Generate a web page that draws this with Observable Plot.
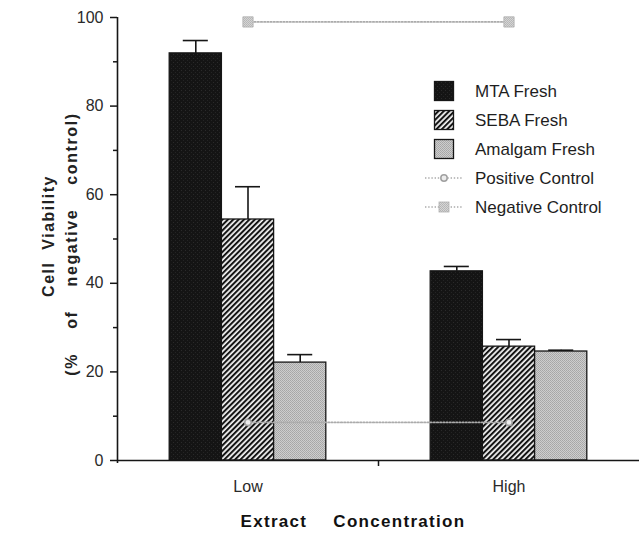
<!DOCTYPE html>
<html>
<head>
<meta charset="utf-8">
<script src="https://cdn.jsdelivr.net/npm/d3@7"></script>
<script src="https://cdn.jsdelivr.net/npm/@observablehq/plot@0.6"></script>
<style>
  body { margin: 0; background: #fff; }
  #chart { width: 639px; height: 533px; }
</style>
</head>
<body>
<div id="chart"></div>
<script>
// ---- data ----
const groups = ["Low", "High"];
const series = ["MTA Fresh", "SEBA Fresh", "Amalgam Fresh"];
const mtaFresh = [91.9, 42.7];
const mtaFreshErr = [2.9, 1.1];
const sebaFresh = [54.4, 25.7];
const sebaFreshErr = [7.4, 1.6];
const amalgamFresh = [22.1, 24.6];
const amalgamFreshErr = [1.8, 0.3];
const positiveControl = [8.6, 8.6];
const negativeControl = [99.0, 99.0];
const controlNames = ["Positive Control", "Negative Control"];
const yTicks = [0, 20, 40, 60, 80, 100];
const yMinorTicks = [10, 30, 50, 70, 90];

// ---- build tables ----
const values = [mtaFresh, sebaFresh, amalgamFresh];
const errors = [mtaFreshErr, sebaFreshErr, amalgamFreshErr];
const fillIds = ["fillMta", "fillSeba", "fillAmalgam"];
const slotsPerGroup = series.length + 2; // empty slot, bars, empty slot
const bars = [];
groups.forEach((g, gi) => series.forEach((s, si) => {
  const x1 = gi * slotsPerGroup + 1 + si;
  bars.push({group: g, series: s, si, x1, x2: x1 + 1, xc: x1 + 0.5,
             value: values[si][gi], err: errors[si][gi]});
}));
const centers = groups.map((g, gi) => gi * slotsPerGroup + slotsPerGroup / 2);
const posData = groups.map((g, gi) => ({x: centers[gi], y: positiveControl[gi]}));
const negData = groups.map((g, gi) => ({x: centers[gi], y: negativeControl[gi]}));
const groupBoundaries = groups.slice(1).map((g, gi) => (gi + 1) * slotsPerGroup);

const ink = "#161616";
const lineGray = "#ababab";
const dash = "1.4 1.8";

const plot = Plot.plot({
  width: 639,
  height: 533,
  marginLeft: 117,
  marginRight: 0,
  marginTop: 17,
  marginBottom: 73,
  x: {type: "linear", domain: [0, groups.length * slotsPerGroup], axis: null},
  y: {domain: [0, 100], axis: null},
  style: {fontFamily: "'Liberation Sans', Arial, sans-serif", fontSize: "16px", color: "#2a2a2a", background: "#fff", overflow: "visible"},
  marks: [
    // bars (one mark per series for its pattern fill)
    ...series.map((s, si) => Plot.rectY(bars.filter(d => d.si === si), {
      x1: "x1", x2: "x2", y1: 0, y2: "value",
      fill: `url(#${fillIds[si]})`, stroke: ink, strokeWidth: 1.3
    })),
    // error bars (upper only)
    Plot.ruleX(bars, {x: "xc", y1: "value", y2: d => d.value + d.err, stroke: ink, strokeWidth: 1.6}),
    Plot.ruleY(bars, {y: d => d.value + d.err, x1: d => d.xc - 0.24, x2: d => d.xc + 0.24, stroke: ink, strokeWidth: 1.6}),
    // controls
    Plot.line(negData, {x: "x", y: "y", stroke: lineGray, strokeWidth: 1.7, strokeDasharray: dash}),
    Plot.dot(negData, {x: "x", y: "y", symbol: "square", r: 5.8, fill: "url(#fillNeg)", stroke: "#b0b0b0", strokeWidth: 0.8}),
    Plot.line(posData, {x: "x", y: "y", stroke: lineGray, strokeWidth: 1.7, strokeDasharray: dash}),
    Plot.dot(posData, {x: "x", y: "y", r: 3.2, fill: "#ececec", stroke: "#a0a0a0", strokeWidth: 1.5}),
    // axes
    Plot.ruleY([0], {stroke: ink, strokeWidth: 1.6}),
    Plot.ruleX([0], {stroke: ink, strokeWidth: 1.6, insetBottom: -3}),
    Plot.axisY({ticks: yTicks, tickSize: 7, tickPadding: 7, label: null, stroke: ink, strokeWidth: 1.5}),
    Plot.axisY({ticks: yMinorTicks, tickSize: 4, tickFormat: () => "", label: null, stroke: ink, strokeWidth: 1.5}),
    Plot.axisX({ticks: groupBoundaries, tickSize: 6, tickFormat: () => "", label: null, stroke: ink, strokeWidth: 1.5}),
    Plot.axisX({ticks: centers, tickSize: 0, tickPadding: 20, tickFormat: d => groups[centers.indexOf(d)], label: null})
  ]
});

document.getElementById("chart").appendChild(plot);

// ---- patterns ----
const svg = d3.select(plot);
const defs = svg.insert("defs", ":first-child");
const pMta = defs.append("pattern").attr("id", "fillMta").attr("patternUnits", "userSpaceOnUse").attr("width", 4).attr("height", 4);
pMta.append("rect").attr("width", 4).attr("height", 4).attr("fill", "#141414");
pMta.append("rect").attr("x", 1).attr("y", 2).attr("width", 1).attr("height", 1).attr("fill", "#2a2a2a");
pMta.append("rect").attr("x", 3).attr("y", 0).attr("width", 1).attr("height", 1).attr("fill", "#242424");

const pSeba = defs.append("pattern").attr("id", "fillSeba").attr("patternUnits", "userSpaceOnUse")
  .attr("width", 3.8).attr("height", 3.8).attr("patternTransform", "rotate(45)");
pSeba.append("rect").attr("width", 3.8).attr("height", 3.8).attr("fill", "#f4f4f4");
pSeba.append("line").attr("x1", 1).attr("y1", 0).attr("x2", 1).attr("y2", 3.8).attr("stroke", "#141414").attr("stroke-width", 2.1);

const pAm = defs.append("pattern").attr("id", "fillAmalgam").attr("patternUnits", "userSpaceOnUse").attr("width", 2).attr("height", 2);
pAm.append("rect").attr("width", 2).attr("height", 2).attr("fill", "#cdcdcd");
pAm.append("rect").attr("width", 1).attr("height", 1).attr("fill", "#a6a6a6");
pAm.append("rect").attr("x", 1).attr("y", 1).attr("width", 1).attr("height", 1).attr("fill", "#acacac");

const pNeg = defs.append("pattern").attr("id", "fillNeg").attr("patternUnits", "userSpaceOnUse").attr("width", 2).attr("height", 2);
pNeg.append("rect").attr("width", 2).attr("height", 2).attr("fill", "#d6d6d6");
pNeg.append("rect").attr("width", 1).attr("height", 1).attr("fill", "#b4b4b4");
pNeg.append("rect").attr("x", 1).attr("y", 1).attr("width", 1).attr("height", 1).attr("fill", "#b8b8b8");

// ---- axis titles ----
const font = "'Liberation Sans', Arial, sans-serif";
svg.append("text")
  .attr("transform", "translate(48,236) rotate(-90)")
  .attr("text-anchor", "middle").attr("dominant-baseline", "central")
  .attr("font-family", font).attr("font-size", 16).attr("font-weight", "bold")
  .attr("letter-spacing", "1.5px").attr("word-spacing", "6px").attr("fill", "#222")
  .text("Cell Viability");
svg.append("text")
  .attr("transform", "translate(71,244) rotate(-90)")
  .attr("text-anchor", "middle").attr("dominant-baseline", "central")
  .attr("font-family", font).attr("font-size", 16).attr("font-weight", "bold")
  .attr("letter-spacing", "1.6px").attr("word-spacing", "18px").attr("fill", "#222")
  .text("(% of negative control)");
svg.append("text")
  .attr("x", 353).attr("y", 527)
  .attr("text-anchor", "middle")
  .attr("font-family", font).attr("font-size", 17).attr("font-weight", "900")
  .attr("letter-spacing", "1.3px").attr("word-spacing", "20px").attr("fill", "#111")
  .text("Extract Concentration");

// ---- legend ----
const legendRows = [...series, ...controlNames];
const legendTop = 91, legendStep = 29, swatchX = 444, labelX = 475;
const lg = svg.append("g").attr("font-family", font).attr("font-size", 17).attr("fill", "#1e1e1e").attr("text-anchor", "start");
legendRows.forEach((name, i) => {
  const cy = legendTop + i * legendStep;
  if (i < series.length) {
    lg.append("rect").attr("x", swatchX - 9.5).attr("y", cy - 9.5).attr("width", 19).attr("height", 19)
      .attr("fill", `url(#${fillIds[i]})`).attr("stroke", ink).attr("stroke-width", 1.3);
  } else {
    lg.append("line").attr("x1", swatchX - 19).attr("x2", swatchX + 19).attr("y1", cy).attr("y2", cy)
      .attr("stroke", lineGray).attr("stroke-width", 1.7).attr("stroke-dasharray", dash);
    if (i === series.length) {
      lg.append("circle").attr("cx", swatchX).attr("cy", cy).attr("r", 3.2)
        .attr("fill", "#ececec").attr("stroke", "#a0a0a0").attr("stroke-width", 1.5);
    } else {
      lg.append("rect").attr("x", swatchX - 5).attr("y", cy - 5).attr("width", 10).attr("height", 10)
        .attr("fill", "url(#fillNeg)").attr("stroke", "#b0b0b0").attr("stroke-width", 0.8);
    }
  }
  lg.append("text").attr("x", labelX).attr("y", cy).attr("dominant-baseline", "central").attr("text-anchor", "start").text(name);
});
</script>
</body>
</html>
